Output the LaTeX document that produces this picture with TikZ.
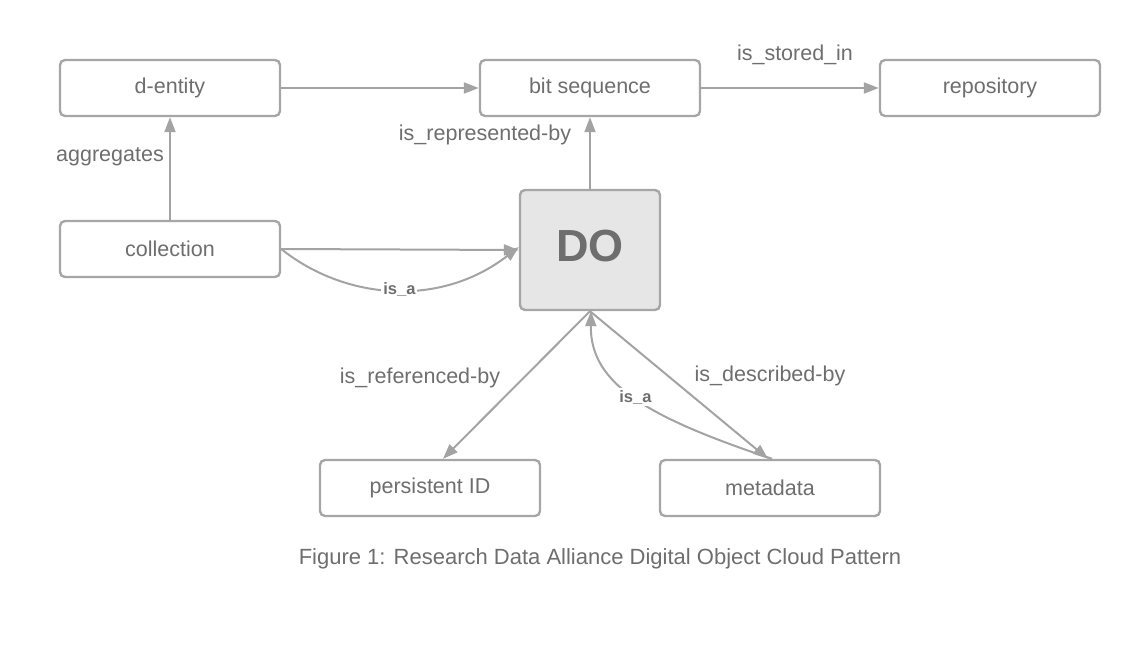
\documentclass[tikz,border=0pt]{standalone}
\usepackage{fontspec}
\setmainfont{Liberation Sans}
\usetikzlibrary{arrows.meta,calc}
\definecolor{edgegray}{HTML}{A3A3A3}
\definecolor{boxgray}{HTML}{A6A6A6}
\definecolor{txtgray}{HTML}{6E6E6E}
\definecolor{dofill}{HTML}{E6E6E6}
\begin{document}
\begin{tikzpicture}[x=1pt,y=-1pt,
  box/.style={draw=boxgray,line width=2.4pt,rounded corners=5pt,minimum width=220pt,minimum height=56pt,inner sep=0pt,font=\fontsize{21.5}{24}\selectfont,text=txtgray,fill=white},
  conn/.style={draw=edgegray,line width=2pt,-{Triangle[length=15pt,width=11pt]}},
  lbl/.style={font=\fontsize{21.5}{24}\selectfont,text=txtgray,inner sep=1pt},
  isa/.style={font=\bfseries\fontsize{16.5}{18}\selectfont,text=txtgray,fill=white,inner sep=2pt}]
\useasboundingbox (0,0) rectangle (1140,647);
\node[box] (dent) at (170,88) {\raisebox{-1pt}{d-entity}};
\node[box] (bits) at (590,88) {\raisebox{-1pt}{bit sequence}};
\node[box] (repo) at (990,88) {\raisebox{-1pt}{repository}};
\node[box] (coll) at (170,249) {collection};
\node[box,fill=dofill,minimum width=140pt,minimum height=120pt,font=\bfseries\fontsize{45}{50}\selectfont] (DO) at (590,250) {\raisebox{8pt}{DO}};
\node[box] (pid) at (430,488) {\raisebox{-1pt}{persistent ID}};
\node[box] (meta) at (770,488) {\raisebox{-1pt}{metadata}};

\draw[conn] (dent.east) -- (bits.west);
\draw[conn] (bits.east) -- (repo.west);
\draw[conn] (DO.north) -- (bits.south);
\draw[conn] (coll.north) -- (dent.south);
\draw[conn] (coll.east) -- (DO.west);
\draw[conn] (coll.east) .. controls (345,300) and (440,308) .. ([yshift=3pt]DO.west) node[isa,pos=0.52] {is\_a};
\draw[conn] (DO.south) -- ([xshift=13pt]pid.north);
\draw[conn] (DO.south) -- ([xshift=-2pt]meta.north);
\draw[conn] ([xshift=2pt]meta.north) .. controls (650,418) and (590,385) .. ([xshift=1pt]DO.south) node[isa,pos=0.5] {is\_a};

\node[lbl] (l1) at (795,55) {is\_stored\_in};
\node[lbl] (l2) at (485,135) {is\_represented-by};
\node[lbl] (l3) at (110,157) {aggregates};
\node[lbl] (l4) at (420,378) {is\_referenced-by};
\node[lbl] (l5) at (770,376) {is\_described-by};
\node[lbl,font=\fontsize{22}{24}\selectfont] (cap) at (600,559) {Figure 1: Research Data Alliance Digital Object Cloud Pattern};
\end{tikzpicture}
\end{document}
